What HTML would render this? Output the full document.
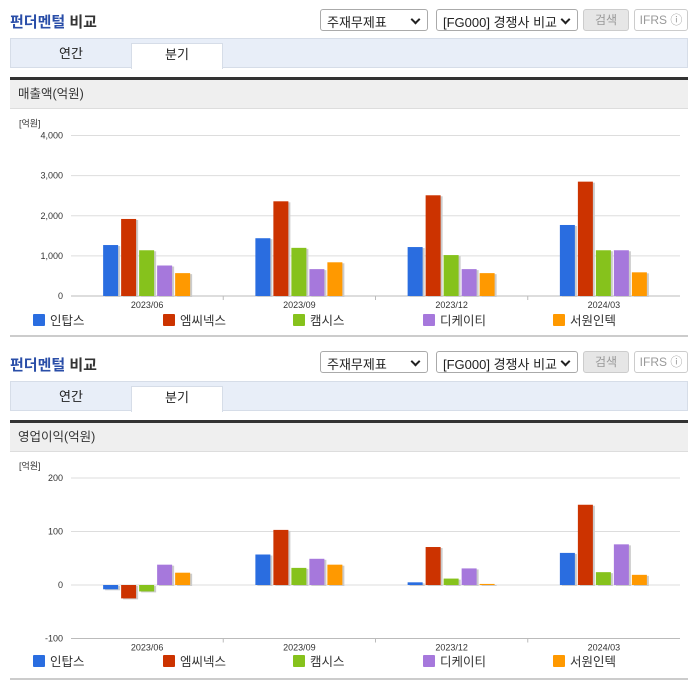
<!DOCTYPE html>
<html><head><meta charset="utf-8">
<style>
body{margin:0;width:696px;height:684px;background:#fff;font-family:"Liberation Sans","Noto Sans CJK KR",sans-serif;position:relative;overflow:hidden}
.abs{position:absolute}
.title{left:10px;font-size:15px;font-weight:bold;color:#2a4ea8}
.title span{color:#333}
.sel{height:22px;border:1px solid #aaa;border-radius:3px;font-size:13px;color:#222;box-sizing:border-box;padding:2px 6px;background:#fff}
.sel:after{content:"";position:absolute;right:8px;top:6px;width:5px;height:5px;border-right:2px solid #222;border-bottom:2px solid #222;transform:rotate(45deg)}
.btn{height:22px;border:1px solid #ccc;border-radius:3px;font-size:12px;box-sizing:border-box;text-align:center;line-height:20px}
.tabs{left:10px;width:678px;height:30px;background:#e8eef8;border:1px solid #d6dde8;box-sizing:border-box}
.tab{top:0;height:30px;font-size:13px;color:#222;text-align:center;line-height:30px}
.tabon{background:#fff;border:1px solid #d6dde8;border-bottom:none;box-sizing:border-box;top:4px;height:26px;line-height:22px}
.dark{left:10px;width:678px;height:3px;background:#333}
.hdr{left:10px;width:678px;height:29px;background:#efefef;border-bottom:1px solid #ddd;font-size:12.5px;color:#333;line-height:29px;padding-left:8px;box-sizing:border-box}
.bot{left:10px;width:678px;height:2px;background:#ccc}
svg text{font-family:"Liberation Sans","Noto Sans CJK KR",sans-serif}
</style></head><body>
<div class="abs title" style="top:11px">펀더멘털 <span>비교</span></div>
<div class="abs sel" style="left:320px;top:9px;width:108px">주재무제표</div>
<div class="abs sel" style="left:436px;top:9px;width:142px">[FG000] 경쟁사 비교</div>
<div class="abs btn" style="left:583px;top:9px;width:46px;background:#e6e6e6;color:#999">검색</div>
<div class="abs btn" style="left:634px;top:9px;width:54px;color:#999;background:#fff">IFRS ⓘ</div>
<div class="abs tabs" style="top:38px">
 <div class="abs tab" style="left:0;width:120px">연간</div>
 <div class="abs tab tabon" style="left:120px;width:92px">분기</div>
</div>
<div class="abs dark" style="top:77px"></div>
<div class="abs hdr" style="top:80px">매출액(억원)</div>
<svg class="abs" id="c1" style="left:0;top:110px" width="696" height="225"></svg>
<div class="abs bot" style="top:335px"></div>

<div class="abs title" style="top:354px">펀더멘털 <span>비교</span></div>
<div class="abs sel" style="left:320px;top:351px;width:108px">주재무제표</div>
<div class="abs sel" style="left:436px;top:351px;width:142px">[FG000] 경쟁사 비교</div>
<div class="abs btn" style="left:583px;top:351px;width:46px;background:#e6e6e6;color:#999">검색</div>
<div class="abs btn" style="left:634px;top:351px;width:54px;color:#999;background:#fff">IFRS ⓘ</div>
<div class="abs tabs" style="top:381px">
 <div class="abs tab" style="left:0;width:120px">연간</div>
 <div class="abs tab tabon" style="left:120px;width:92px">분기</div>
</div>
<div class="abs dark" style="top:420px"></div>
<div class="abs hdr" style="top:423px">영업이익(억원)</div>
<svg class="abs" id="c2" style="left:0;top:452px" width="696" height="226"></svg>
<div class="abs bot" style="top:678px"></div>

<script>
const categories=["2023/06","2023/09","2023/12","2024/03"];
const seriesNames=["인탑스","엠씨넥스","캠시스","디케이티","서원인텍"];
const colors=["#2a6de0","#cc3300","#86c21c","#a678dc","#ff9900"];
const rev_intops=[1270,1440,1220,1770];
const rev_mcnex=[1920,2360,2510,2850];
const rev_camsys=[1140,1200,1020,1140];
const rev_dkt=[760,670,670,1140];
const rev_seowon=[570,840,570,590];
const revTicks=[0,1000,2000,3000,4000];
const revTickLabels=["0","1,000","2,000","3,000","4,000"];
const op_intops=[-8,57,5,60];
const op_mcnex=[-25,103,71,150];
const op_camsys=[-12,32,12,24];
const op_dkt=[38,49,31,76];
const op_seowon=[23,38,2,19];
const opTicks=[-100,0,100,200];
const opTickLabels=["-100","0","100","200"];
const NS="http://www.w3.org/2000/svg";
function mk(svg,tag,attrs,txt){const e=document.createElementNS(NS,tag);for(const k in attrs)e.setAttribute(k,attrs[k]);if(txt!=null)e.textContent=txt;svg.appendChild(e);return e;}
function draw(id,series,ticks,labels,ymin,ymax,yTop,yBot,axisY,legendY,pfx){
 const svg=document.getElementById(id);
 const x0=71,x1=680,gw=(x1-x0)/categories.length;
 const y=v=>yBot-(v-ymin)/(ymax-ymin)*(yBot-yTop);
 const u=mk(svg,'text',{x:19,y:yTop-9,'font-size':9,fill:'#333'},'[억원]');
 
 ticks.forEach((t,i)=>{
  const g=mk(svg,'line',{x1:x0,x2:x1,y1:y(t),y2:y(t),stroke:t===0&&ymin===0?'#bbb':'#ddd','stroke-width':1});
  
  const l=mk(svg,'text',{x:63,y:y(t)+3,'font-size':9,fill:'#333','text-anchor':'end'},labels[i]);
  
 });
 const ax=mk(svg,'line',{x1:x0,x2:x1,y1:axisY,y2:axisY,stroke:'#bbb'});
 
 categories.forEach((c,ci)=>{
  const cx=x0+gw*(ci+0.5);
  if(ci>0){const tk=mk(svg,'line',{x1:x0+gw*ci,x2:x0+gw*ci,y1:axisY,y2:axisY+4,stroke:'#bbb'});}
  const t=mk(svg,'text',{x:cx,y:axisY+12,'font-size':9,fill:'#333','text-anchor':'middle'},c);
  
  series.forEach((s,si)=>{
   const bx=cx-44+si*18,v=s[ci],ya=y(0),yb=y(v);
   const top=Math.min(ya,yb),h=Math.max(Math.abs(ya-yb),1);
   const sh=mk(svg,'rect',{x:bx+2,y:top+1,width:15,height:h,fill:'#ccc'});
   
   const r=mk(svg,'rect',{x:bx,y:top,width:15,height:h,fill:colors[si]});
   
  });
 });
 seriesNames.forEach((n,i)=>{
  const lx=33+i*130;
  const sq=mk(svg,'rect',{x:lx,y:legendY-6,width:12,height:12,rx:1,fill:colors[i]});
  
  const t=mk(svg,'text',{x:lx+17,y:legendY+5,'font-size':12.5,fill:'#333'},n);
  
 });
}
draw('c1',[rev_intops,rev_mcnex,rev_camsys,rev_dkt,rev_seowon],revTicks,revTickLabels,0,4000,25.5,186,186,210,'revenue');
draw('c2',[op_intops,op_mcnex,op_camsys,op_dkt,op_seowon],opTicks,opTickLabels,-100,200,26,186.5,186.5,209,'op-income');
</script>
</body></html>
